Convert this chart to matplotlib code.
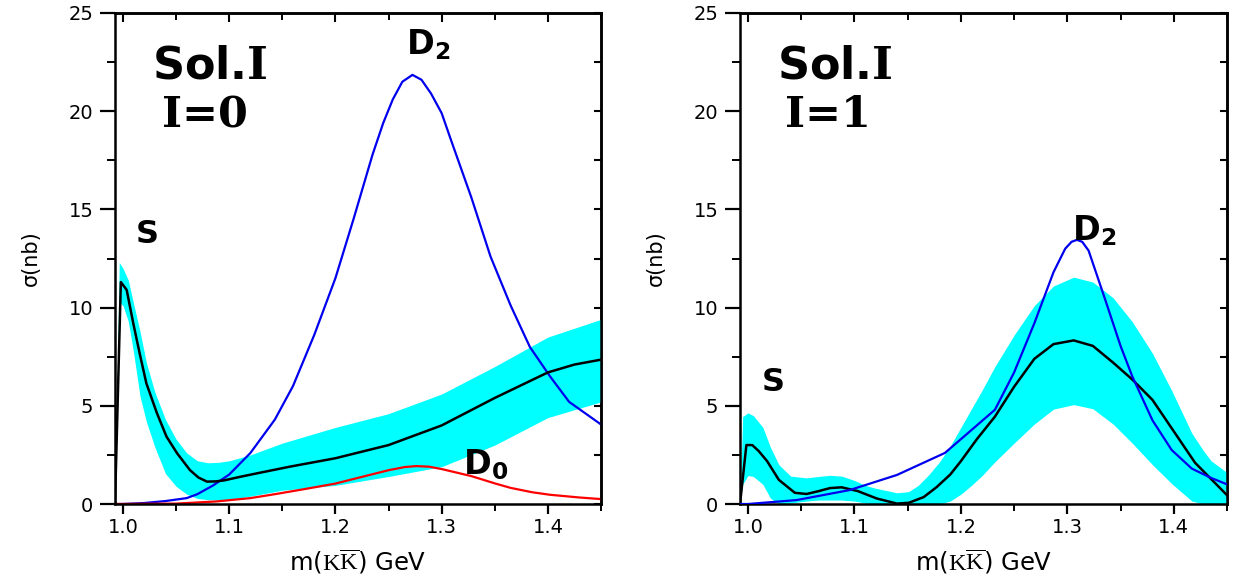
import matplotlib.pyplot as plt
from matplotlib.ticker import MultipleLocator

plt.rcParams['font.family'] = ['DejaVu Sans']
plt.rcParams['mathtext.fontset'] = 'custom'
plt.rcParams['mathtext.rm'] = 'Liberation Serif'
plt.rcParams['mathtext.bf'] = 'DejaVu Serif:bold'
plt.rcParams['mathtext.sf'] = 'DejaVu Sans:bold'

# ---- I=0 panel ----
band0_x = [0.9925, 0.9965, 1.0, 1.005, 1.01, 1.016, 1.022, 1.03, 1.04, 1.05, 1.06, 1.07,
           1.08, 1.09, 1.1, 1.12, 1.15, 1.2, 1.25, 1.3, 1.35, 1.4, 1.45]
band0_hi = [0, 12.3, 12.0, 11.4, 10.2, 8.8, 7.2, 5.7, 4.3, 3.3, 2.6, 2.2,
            2.1, 2.12, 2.2, 2.5, 3.1, 3.9, 4.6, 5.6, 7.0, 8.5, 9.4]
band0_lo = [0, 10.3, 10.1, 9.3, 7.7, 5.5, 4.2, 2.9, 1.55, 0.9, 0.5, 0.28,
            0.22, 0.2, 0.22, 0.4, 0.7, 0.95, 1.4, 1.9, 3.0, 4.4, 5.2]

tot0_x = [0.9925, 0.998, 1.0035, 1.0097, 1.016, 1.022, 1.032, 1.041, 1.051, 1.063, 1.071,
          1.079, 1.087, 1.095, 1.11, 1.126, 1.157, 1.2, 1.25, 1.3, 1.35, 1.4, 1.425, 1.45]
tot0_y = [0, 11.3, 10.9, 9.2, 7.6, 6.15, 4.62, 3.43, 2.58, 1.73, 1.35,
          1.14, 1.15, 1.2, 1.38, 1.56, 1.9, 2.33, 3.0, 4.0, 5.4, 6.7, 7.1, 7.35]

d2_0_x = [0.9925, 1.0, 1.02, 1.04, 1.06, 1.07, 1.085, 1.1, 1.12, 1.143, 1.16, 1.18, 1.2,
          1.217, 1.235, 1.245, 1.254, 1.263, 1.2725, 1.281, 1.29, 1.3, 1.309, 1.328,
          1.346, 1.365, 1.383, 1.402, 1.42, 1.45]
d2_0_y = [0, 0, 0.05, 0.15, 0.3, 0.5, 0.95, 1.5, 2.6, 4.3, 6.0, 8.6, 11.5,
          14.5, 17.8, 19.4, 20.6, 21.5, 21.85, 21.6, 20.9, 19.9, 18.5, 15.6,
          12.6, 10.1, 8.0, 6.5, 5.2, 4.05]

d0_0_x = [0.9925, 1.05, 1.088, 1.12, 1.143, 1.17, 1.2, 1.23, 1.25, 1.265, 1.276, 1.288,
          1.3, 1.328, 1.35, 1.365, 1.385, 1.402, 1.43, 1.45]
d0_0_y = [0, 0.02, 0.13, 0.3, 0.5, 0.75, 1.04, 1.45, 1.72, 1.88, 1.93, 1.9,
          1.78, 1.42, 1.05, 0.82, 0.6, 0.47, 0.33, 0.25]

# ---- I=1 panel ----
band1_x = [0.9925, 0.995, 1.0, 1.005, 1.014, 1.021, 1.029, 1.04, 1.055, 1.066, 1.077, 1.088,
           1.1, 1.11, 1.12, 1.14, 1.151, 1.16, 1.17, 1.18, 1.19, 1.2, 1.21, 1.22, 1.232,
           1.25, 1.269, 1.287, 1.306, 1.324, 1.343, 1.361, 1.38, 1.398, 1.417, 1.428,
           1.435, 1.45]
band1_hi = [0, 4.45, 4.64, 4.5, 3.9, 2.9, 2.0, 1.42, 1.33, 1.4, 1.46, 1.42,
            1.2, 0.95, 0.8, 0.57, 0.63, 0.95, 1.5, 2.15, 2.95, 3.9, 4.85, 5.8, 7.0,
            8.6, 10.1, 11.1, 11.55, 11.3, 10.5, 9.28, 7.67, 5.78, 3.6, 2.7,
            2.2, 1.6]
band1_lo = [0, 1.0, 1.45, 1.4, 1.0, 0.3, 0.0, 0.05, 0.15, 0.2, 0.2, 0.2,
            0.15, 0.05, 0.0, 0.0, 0.0, 0.0, 0.0, 0.0, 0.15, 0.5, 0.95, 1.45, 2.15,
            3.1, 4.07, 4.83, 5.06, 4.85, 4.07, 3.1, 2.0, 1.04, 0.15, 0.0,
            0.0, 0.0]

tot1_x = [0.9925, 0.9985, 1.004, 1.01, 1.018, 1.029, 1.044, 1.055, 1.066, 1.077, 1.088,
          1.103, 1.121, 1.14, 1.151, 1.165, 1.177, 1.19, 1.2, 1.215, 1.232, 1.25, 1.269,
          1.287, 1.306, 1.324, 1.343, 1.361, 1.38, 1.4, 1.42, 1.45]
tot1_y = [0, 3.0, 3.0, 2.7, 2.18, 1.23, 0.57, 0.51, 0.65, 0.81, 0.85,
          0.66, 0.28, 0.02, 0.06, 0.35, 0.85, 1.5, 2.18, 3.3, 4.45, 5.97, 7.39,
          8.14, 8.33, 8.05, 7.2, 6.34, 5.3, 3.7, 2.1, 0.45]

d2_1_x = [0.9925, 1.0, 1.0457, 1.0956, 1.14, 1.185, 1.2, 1.232, 1.25, 1.269, 1.287, 1.298,
          1.304, 1.309, 1.314, 1.32, 1.335, 1.35, 1.361, 1.38, 1.398, 1.417, 1.435, 1.45]
d2_1_y = [0, 0, 0.2, 0.71, 1.48, 2.6, 3.3, 4.8, 6.7, 9.2, 11.8, 13.0,
          13.35, 13.45, 13.35, 12.9, 10.5, 8.05, 6.5, 4.26, 2.75, 1.8, 1.33, 1.0]

W, H = 1239, 584
fig = plt.figure(figsize=(W / 100, H / 100), dpi=100)
ax0 = fig.add_axes([115 / W, 1 - 504 / H, 486 / W, 491 / H])
ax1 = fig.add_axes([740 / W, 1 - 504 / H, 487 / W, 491 / H])


def style(ax):
    ax.set_xlim(0.9925, 1.45)
    ax.set_ylim(0, 25)
    ax.xaxis.set_major_locator(MultipleLocator(0.1))
    ax.xaxis.set_minor_locator(MultipleLocator(0.05))
    ax.yaxis.set_major_locator(MultipleLocator(5))
    ax.yaxis.set_minor_locator(MultipleLocator(2.5))
    ax.xaxis.set_major_formatter(lambda v, p: '%.1f' % v)
    for s in ax.spines.values():
        s.set_linewidth(1.8)
    ax.tick_params(axis='x', which='major', direction='out', length=7, width=1.6,
                   labelsize=14, pad=3)
    ax.tick_params(axis='x', which='minor', direction='out', length=5, width=1.4)
    ax.tick_params(axis='y', which='major', direction='out', length=10.5, width=1.6,
                   labelsize=14, pad=5)
    ax.tick_params(axis='y', which='minor', direction='out', length=5.5, width=1.4)
    top = ax.secondary_xaxis('top')
    top.xaxis.set_major_locator(MultipleLocator(0.1))
    top.xaxis.set_minor_locator(MultipleLocator(0.05))
    top.tick_params(which='major', direction='in', length=6.5, width=1.5, labeltop=False)
    top.tick_params(which='minor', direction='in', length=5, width=1.4)
    top.spines['top'].set_linewidth(1.8)
    right = ax.secondary_yaxis('right')
    right.yaxis.set_major_locator(MultipleLocator(5))
    right.yaxis.set_minor_locator(MultipleLocator(2.5))
    right.tick_params(which='both', direction='in', length=5, width=1.5, labelright=False)
    right.spines['right'].set_linewidth(1.8)
    ax.set_xlabel(r'm($\mathrm{K\overline{K}}$) GeV', fontsize=17.5)
    ax.xaxis.set_label_coords(0.5, -0.09)
    ax.set_ylabel('σ(nb)', fontsize=15)
    ax.yaxis.set_label_coords(-0.152, 0.5)


ax0.fill_between(band0_x, band0_lo, band0_hi, color='#00ffff', lw=0, zorder=1)
ax0.plot(d2_0_x, d2_0_y, color='#0000ee', lw=1.6, zorder=2)
ax0.plot(d0_0_x, d0_0_y, color='#ff0000', lw=1.6, zorder=2)
ax0.plot(tot0_x, tot0_y, color='black', lw=1.8, zorder=3)
style(ax0)
ax0.text(1.082, 22.3, r'Sol.$\mathbf{I}$', fontsize=32, fontweight='bold', ha='center', va='center')
ax0.text(1.077, 19.8, 'I=0', fontsize=31, family='DejaVu Serif', fontweight='bold',
         ha='center', va='center')
ax0.text(1.287, 23.4, r'$\mathsf{D_2}$', fontsize=24, ha='center', va='center')
ax0.text(1.0226, 13.7, 'S', fontsize=23, fontweight='bold', ha='center', va='center')
ax0.text(1.341, 2.0, r'$\mathsf{D_0}$', fontsize=24, ha='center', va='center')

ax1.fill_between(band1_x, band1_lo, band1_hi, color='#00ffff', lw=0, zorder=1)
ax1.plot(tot1_x, tot1_y, color='black', lw=1.8, zorder=2)
ax1.plot(d2_1_x, d2_1_y, color='#0000ee', lw=1.6, zorder=3)
style(ax1)
ax1.text(1.082, 22.3, r'Sol.$\mathbf{I}$', fontsize=32, fontweight='bold', ha='center', va='center')
ax1.text(1.075, 19.8, 'I=1', fontsize=31, family='DejaVu Serif', fontweight='bold',
         ha='center', va='center')
ax1.text(1.325, 13.9, r'$\mathsf{D_2}$', fontsize=24, ha='center', va='center')
ax1.text(1.0237, 6.2, 'S', fontsize=23, fontweight='bold', ha='center', va='center')

fig.savefig('out.png', dpi=100)
